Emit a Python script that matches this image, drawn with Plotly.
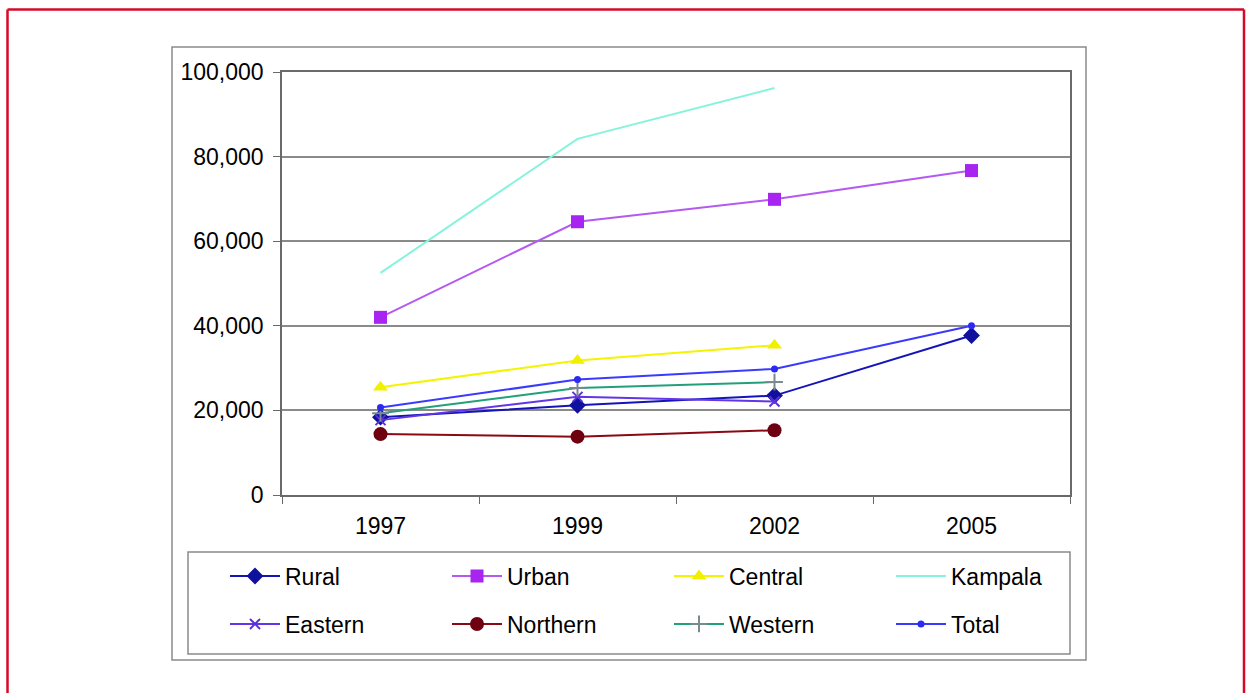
import plotly.graph_objects as go

# Survey years (category axis)
years = ["1997", "1999", "2002", "2005"]

# Mean monthly household income per region
rural = [18400, 21200, 23500, 37700]
urban = [42000, 64600, 69900, 76700]
central = [25500, 31800, 35400, None]
kampala = [52500, 84200, 96200, None]
eastern = [17700, 23200, 22100, None]
northern = [14400, 13800, 15300, None]
western = [19300, 25300, 26700, None]
total = [20700, 27300, 29800, 40000]

y_ticks = [0, 20000, 40000, 60000, 80000, 100000]

W, H = 1249, 693
L, R, T, B = 282, 1070, 72, 495  # plot area in pixels


def px(x):
    return (x - L) / (R - L)


def py(y):
    return (B - y) / (B - T)


FONT = "Liberation Sans, Arial, sans-serif"
FS = 23

series = [
    # name, values, line colour, marker dict, legend
    ("Rural", rural, "#1414b8", dict(symbol="diamond", size=13, color="#10109e"), "legend"),
    ("Urban", urban, "#b45af2", dict(symbol="square", size=13, color="#a824f0"), "legend"),
    ("Central", central, "#f4f400", dict(symbol="triangle-up", size=13, color="#f0f000"), "legend"),
    ("Kampala", kampala, "#86f3dc", None, "legend"),
    ("Eastern", eastern, "#6236e6", dict(symbol="x-thin", size=10, color="#5a32d8",
                                         line=dict(width=2, color="#5a32d8")), "legend2"),
    ("Northern", northern, "#8a0a14", dict(symbol="circle", size=14, color="#6e0010"), "legend2"),
    ("Western", western, "#22a07a", dict(symbol="cross-thin", size=12, color="#7a8a90",
                                         line=dict(width=2, color="#7a8a90")), "legend2"),
    ("Total", total, "#3a3aff", dict(symbol="circle", size=7, color="#2a2af0"), "legend2"),
]

fig = go.Figure()
for name, vals, lc, mk, lg in series:
    fig.add_trace(go.Scatter(
        x=years, y=vals, name=name,
        mode="lines+markers" if mk else "lines",
        line=dict(color=lc, width=2),
        marker=mk if mk else None,
        legend=lg,
    ))

shapes = []
# red page frame
red = dict(color="#d60a28", width=2.5)
shapes.append(dict(type="line", xref="paper", yref="paper",
                   x0=px(7.5), x1=px(7.5), y0=py(9.5), y1=py(700), line=red))
shapes.append(dict(type="line", xref="paper", yref="paper",
                   x0=px(7.5), x1=px(1244), y0=py(9.5), y1=py(9.5), line=red))
shapes.append(dict(type="line", xref="paper", yref="paper",
                   x0=px(1244), x1=px(1244), y0=py(9.5), y1=py(700), line=red))
# chart-area box and legend box
shapes.append(dict(type="rect", xref="paper", yref="paper", layer="below",
                   x0=px(172), x1=px(1086), y0=py(660), y1=py(47),
                   line=dict(color="#8a8a8a", width=1.5)))
shapes.append(dict(type="rect", xref="paper", yref="paper",
                   x0=px(188), x1=px(1070), y0=py(654), y1=py(552),
                   line=dict(color="#8a8a8a", width=1.5)))

legend_common = dict(
    orientation="h", xanchor="left", yanchor="middle",
    entrywidth=157, entrywidthmode="pixels",
    font=dict(family=FONT, size=FS, color="#000000"),
    bgcolor="rgba(0,0,0,0)", borderwidth=0, itemwidth=50,
    traceorder="normal",
)

fig.update_layout(
    width=W, height=H,
    margin=dict(l=L, r=W - R, t=T, b=H - B, pad=0),
    paper_bgcolor="white", plot_bgcolor="white",
    font=dict(family=FONT, size=FS, color="#000000"),
    showlegend=True,
    legend=dict(x=px(225), y=py(576), **legend_common),
    legend2=dict(x=px(225), y=py(624), **legend_common),
    shapes=shapes,
    xaxis=dict(
        type="category", range=[-0.5, 3.5],
        showgrid=False, zeroline=False,
        showline=True, linecolor="#6a6a6a", linewidth=1.5, mirror=True,
        ticks="outside", tickson="boundaries", ticklen=7, tickcolor="#6a6a6a",
        ticklabelstandoff=10,
        tickfont=dict(family=FONT, size=FS, color="#000000"),
        fixedrange=True,
    ),
    yaxis=dict(
        range=[0, 100000], tickvals=y_ticks, tickformat=",",
        showgrid=True, gridcolor="#8a8a8a", gridwidth=1.5,
        zeroline=False,
        showline=True, linecolor="#6a6a6a", linewidth=1.5, mirror=True,
        ticks="outside", ticklen=7, tickcolor="#6a6a6a",
        ticklabelstandoff=5,
        tickfont=dict(family=FONT, size=FS, color="#000000"),
        fixedrange=True,
    ),
)

fig.write_html("out.html")
